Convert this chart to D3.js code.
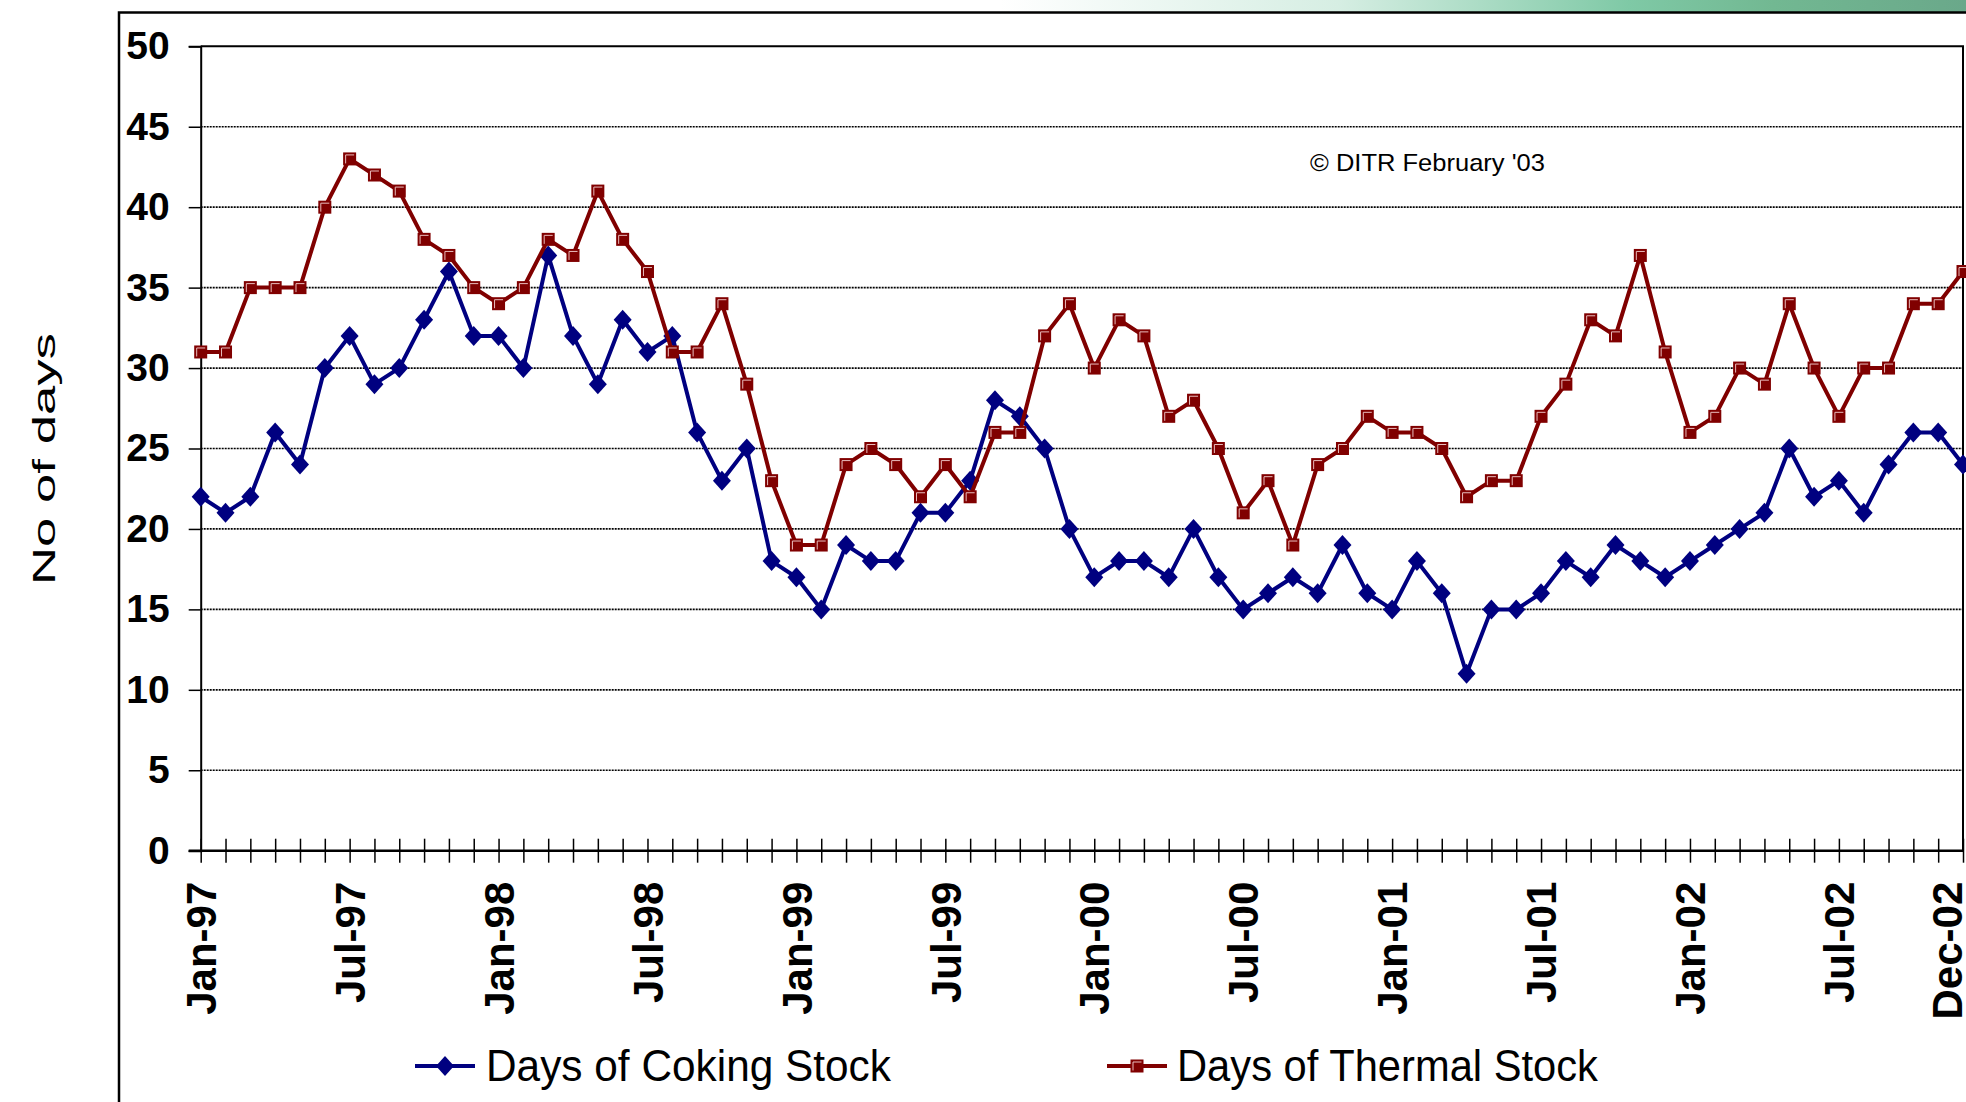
<!DOCTYPE html>
<meta charset="utf-8">
<script src="https://d3js.org/d3.v7.min.js"></script>
<style>
body {
    margin:0;
    background:#fff;
    overflow:hidden;
}
text {
    font-family:'Liberation Sans', Arial, sans-serif;
}
</style>
<svg width="1966" height="1102"></svg>
<script>

// monthly figures, Jan-97 .. Dec-02
var coking = [
    22, 21, 22, 26, 24, 30, 32, 29, 30, 33, 36, 32,
    32, 30, 37, 32, 29, 33, 31, 32, 26, 23, 25, 18,
    17, 15, 19, 18, 18, 21, 21, 23, 28, 27, 25, 20,
    17, 18, 18, 17, 20, 17, 15, 16, 17, 16, 19, 16,
    15, 18, 16, 11, 15, 15, 16, 18, 17, 19, 18, 17,
    18, 19, 20, 21, 25, 22, 23, 21, 24, 26, 26, 24
]
var thermal = [
    31, 31, 35, 35, 35, 40, 43, 42, 41, 38, 37, 35,
    34, 35, 38, 37, 41, 38, 36, 31, 31, 34, 29, 23,
    19, 19, 24, 25, 24, 22, 24, 22, 26, 26, 32, 34,
    30, 33, 32, 27, 28, 25, 21, 23, 19, 24, 25, 27,
    26, 26, 25, 22, 23, 23, 27, 29, 33, 32, 37, 31,
    26, 27, 30, 29, 34, 30, 27, 30, 30, 34, 34, 36
]
var shownLabels = ['Jan-97', 'Jul-97', 'Jan-98', 'Jul-98', 'Jan-99', 'Jul-99', 'Jan-00',
    'Jul-00', 'Jan-01', 'Jul-01', 'Jan-02', 'Jul-02', 'Dec-02']
var yTicks = [0, 5, 10, 15, 20, 25, 30, 35, 40, 45, 50]
var seriesNames = ['Days of Coking Stock', 'Days of Thermal Stock']

var fmt = d3.timeFormat('%b-%y')
var months = d3.timeMonths(new Date(1997, 0, 1), new Date(2003, 0, 1)).map(fmt)

var navy = '#000080', maroon = '#800000'
var plotL = 200.7, plotR = 1963, plotT = 46.3, plotB = 850.7

var svg = d3.select('svg')

// squeeze/stretch a text horizontally (in its own frame) to a given length
function fitText(sel, len) {
    var w = sel.node().getComputedTextLength()
    var tr = sel.attr('transform') || ''
    sel.attr('transform', tr + ' scale(' + (len / w) + ',1)')
}

// slide decoration along the very top
var defs = svg.append('defs')
var grad = defs.append('linearGradient').attr('id', 'band')
grad.append('stop').attr('offset', '0').attr('stop-color', '#ffffff')
grad.append('stop').attr('offset', '0.35').attr('stop-color', '#d6eee3')
grad.append('stop').attr('offset', '0.65').attr('stop-color', '#7fc9a6')
grad.append('stop').attr('offset', '0.8').attr('stop-color', '#72b892')
grad.append('stop').attr('offset', '1').attr('stop-color', '#6aa88a')
svg.append('rect')
    .attr('x', 1000).attr('y', 0)
    .attr('width', 966).attr('height', 12)
    .attr('fill', 'url(#band)')

// outer frame
svg.append('path')
    .attr('d', 'M119,1102 V12.5 H1966')
    .attr('fill', 'none')
    .attr('stroke', '#000')
    .attr('stroke-width', 2.5)

var x = d3.scalePoint().domain(months).range([plotL, plotR])
var y = d3.scaleLinear().domain([0, 50]).range([plotB, plotT])

// gridlines
svg.append('g')
    .selectAll('line')
    .data(yTicks.filter(function(t) { return t > 0 && t < 50 }))
    .enter().append('line')
    .attr('x1', plotL).attr('x2', plotR)
    .attr('y1', function(t) { return y(t) })
    .attr('y2', function(t) { return y(t) })
    .attr('stroke', '#000')
    .attr('stroke-width', 1.7)
    .attr('stroke-dasharray', '2,1')

// plot border (top and right)
svg.append('path')
    .attr('d', 'M' + plotL + ',' + plotT + 'H' + plotR + 'V' + plotB)
    .attr('fill', 'none')
    .attr('stroke', '#000')
    .attr('stroke-width', 2)

// y axis
var yAxis = svg.append('g')
    .attr('transform', 'translate(' + plotL + ',0)')
    .call(d3.axisLeft(y).tickValues(yTicks).tickSize(12).tickPadding(19))
yAxis.select('.domain').attr('stroke-width', 2)
yAxis.selectAll('.tick line').attr('stroke-width', 1.5)
yAxis.selectAll('text')
    .attr('font-size', 39)
    .attr('font-weight', 'bold')
    .attr('fill', '#000')
    .attr('font-family', "'Liberation Sans', Arial, sans-serif")

// x axis: a crossing tick every month
var xAxis = svg.append('g')
    .attr('transform', 'translate(0,' + plotB + ')')
    .call(d3.axisBottom(x).tickSize(12).tickSizeOuter(0)
        .tickFormat(function(d) { return shownLabels.indexOf(d) > -1 ? d : '' }))
xAxis.select('.domain').attr('stroke-width', 2.5).attr('d', 'M' + (plotL - 12) + ',0H' + plotR)
xAxis.selectAll('.tick line').attr('y1', -12).attr('stroke-width', 1.5)
xAxis.selectAll('text')
    .attr('font-size', 42)
    .attr('font-weight', 'bold')
    .attr('fill', '#000')
    .attr('font-family', "'Liberation Sans', Arial, sans-serif")
    .attr('text-anchor', 'end')
    .attr('transform', 'rotate(-90)')
    .attr('x', -31)
    .attr('y', function(d) { return d === 'Dec-02' ? -16 : 0 })
    .attr('dy', '0.35em')

// y title
var yTitle = svg.append('text')
    .attr('transform', 'translate(55,459) rotate(-90)')
    .attr('text-anchor', 'middle')
    .attr('font-size', 32)
    .text('No of days')
fitText(yTitle, 252)

// copyright note
var note = svg.append('text')
    .attr('transform', 'translate(1310,171)')
    .attr('font-size', 24)
    .text('\u00a9 DITR February \'03')
fitText(note, 235)

var line = d3.line()
    .x(function(d, i) { return x(months[i]) })
    .y(function(d) { return y(d) })

function diamond(g, cx, cy) {
    g.append('path')
        .attr('d', 'M' + cx + ',' + (cy - 10) + 'L' + (cx + 9) + ',' + cy + 'L' + cx + ',' + (cy + 10) + 'L' + (cx - 9) + ',' + cy + 'Z')
        .attr('fill', navy)
}

function square(g, cx, cy) {
    g.append('rect')
        .attr('x', cx - 6.5).attr('y', cy - 6.5)
        .attr('width', 13).attr('height', 13)
        .attr('fill', maroon)
    g.append('path')
        .attr('d', 'M' + (cx - 4) + ',' + (cy + 4.5) + 'V' + (cy - 4) + 'H' + (cx + 4.5))
        .attr('fill', 'none')
        .attr('stroke', '#e9bcbc')
        .attr('stroke-width', 1)
}

// coking series
var gC = svg.append('g')
gC.append('path')
    .datum(coking)
    .attr('d', line)
    .attr('fill', 'none')
    .attr('stroke', navy)
    .attr('stroke-width', 4)
    .attr('stroke-linejoin', 'round')
coking.forEach(function(v, i) { diamond(gC, x(months[i]), y(v)) })

// thermal series
var gT = svg.append('g')
gT.append('path')
    .datum(thermal)
    .attr('d', line)
    .attr('fill', 'none')
    .attr('stroke', maroon)
    .attr('stroke-width', 4)
    .attr('stroke-linejoin', 'round')
thermal.forEach(function(v, i) { square(gT, x(months[i]), y(v)) })

// legend
var legY = 1066
var leg = [
    { name: seriesNames[0], color: navy, x0: 415, tx: 486, w: 405, mark: diamond },
    { name: seriesNames[1], color: maroon, x0: 1107, tx: 1177, w: 421, mark: square }
]
leg.forEach(function(l) {
    var g = svg.append('g')
    g.append('line')
        .attr('x1', l.x0).attr('x2', l.x0 + 60)
        .attr('y1', legY).attr('y2', legY)
        .attr('stroke', l.color)
        .attr('stroke-width', 4)
    l.mark(g, l.x0 + 30, legY)
    var t = g.append('text')
        .attr('transform', 'translate(' + l.tx + ',' + (legY + 15) + ')')
        .attr('font-size', 44)
        .text(l.name)
    fitText(t, l.w)
})

</script>
